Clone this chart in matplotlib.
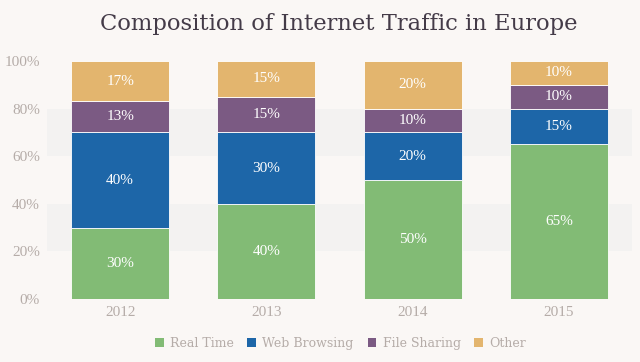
import matplotlib
matplotlib.use("Agg")
import matplotlib.pyplot as plt
from matplotlib.patches import Patch
import numpy as np

years = ["2012", "2013", "2014", "2015"]
series_names = ["Real Time", "Web Browsing", "File Sharing", "Other"]
real_time = [30, 40, 50, 65]
web_browsing = [40, 30, 20, 15]
file_sharing = [13, 15, 10, 10]
other = [17, 15, 20, 10]
y_ticks = [0, 20, 40, 60, 80, 100]
colors = ["#82bb75", "#1d66a8", "#7b5a83", "#e3b56e"]

bg = "#faf7f5"
fig = plt.figure(figsize=(6.4, 3.62), dpi=100, facecolor=bg)
ax = fig.add_axes([47/640, (362-299)/362, (632-47)/640, (299-61)/362])
ax.set_facecolor(bg)

for lo, hi in [(20, 40), (60, 80)]:
    ax.axhspan(lo, hi, color="#f3f2f1", zorder=0, lw=0)

x = np.arange(len(years))
bottom = np.zeros(len(years))
for name, vals, c in zip(series_names, [real_time, web_browsing, file_sharing, other], colors):
    vals = np.array(vals, dtype=float)
    ax.bar(x, vals, bottom=bottom, width=0.67, color=c, edgecolor="#ffffff", linewidth=0.6, zorder=2)
    for xi, b, v in zip(x, bottom, vals):
        ax.text(xi, b + v/2, f"{int(v)}%", ha="center", va="center", color="white",
                fontsize=11, family="Liberation Serif", zorder=3)
    bottom += vals

ax.set_xlim(-0.5, len(years) - 0.5)
ax.set_ylim(0, 100)
ax.set_yticks(y_ticks)
ax.set_yticklabels([f"{t}%" for t in y_ticks], family="Liberation Serif", fontsize=11, color="#b5aca8")
ax.set_xticks(x)
ax.set_xticklabels(years, family="Liberation Serif", fontsize=11, color="#b5aca8")
ax.tick_params(axis="y", length=0, pad=5)
ax.tick_params(axis="x", length=0, pad=5)
for s in ax.spines.values():
    s.set_visible(False)

fig.text(0.53, 0.935, "Composition of Internet Traffic in Europe", ha="center", va="center",
         family="DejaVu Serif", fontsize=16.3, color="#443b48")

handles = [Patch(facecolor=c, edgecolor="none") for c in colors]
fig.legend(handles, series_names, loc="center", bbox_to_anchor=(0.532, 0.052), ncol=4, frameon=False,
           prop={"family": "DejaVu Serif", "size": 9}, labelcolor="#b5aca8",
           handlelength=0.7, handleheight=0.7, handletextpad=0.5, columnspacing=1.1)

fig.savefig("out.png", dpi=100, facecolor=bg)
